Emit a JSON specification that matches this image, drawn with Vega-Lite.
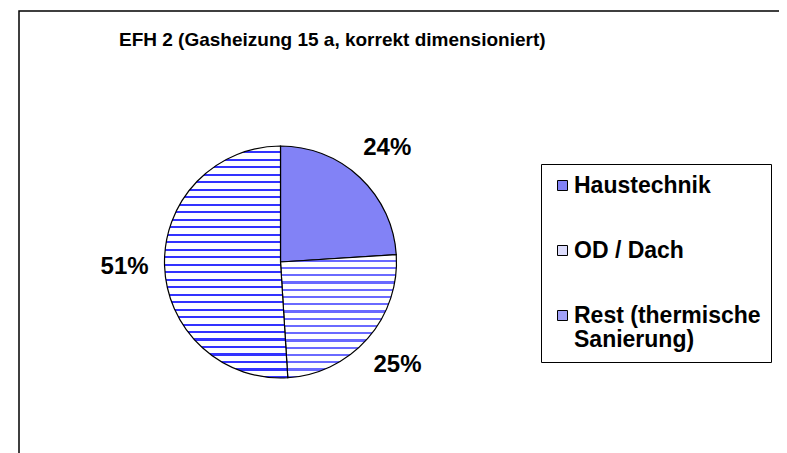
{
  "$schema": "https://vega.github.io/schema/vega-lite/v6.json",
  "width": 760,
  "height": 452,
  "autosize": "none",
  "padding": {"left": 19, "top": 11, "right": 8, "bottom": -10},
  "background": "white",
  "view": {"stroke": "black", "strokeWidth": 1.5, "fill": "white", "strokeDash": [760, 742, 3000]},
  "config": {"font": "Liberation Sans"},
  "title": {
    "text": "EFH 2 (Gasheizung 15 a, korrekt dimensioniert)",
    "font": "Liberation Sans", "fontSize": 19, "fontWeight": "bold", "color": "black",
    "anchor": "start", "frame": "group", "baseline": "alphabetic", "offset": 0, "dx": 100, "dy": 54
  },
  "data": {"values": [
    {"part": "Haustechnik", "share": 0.24},
    {"part": "OD / Dach", "share": 0.25},
    {"part": "Rest (thermische Sanierung)", "share": 0.51}
  ]},
  "encoding": {
    "theta": {"field": "share", "type": "quantitative", "stack": true},
    "order": {"field": "part", "sort": "ascending"}
  },
  "layer": [
    {
      "mark": {"type": "arc", "radius": 116, "stroke": "black", "strokeWidth": 1.2, "x": 261.5, "y": 251},
      "encoding": {
        "fill": {
          "condition": [
            {"test": "datum.part == 'OD / Dach'", "value": {"gradient": "linear", "x1": 0, "y1": 0, "x2": 0, "y2": 1, "stops": [
              {"offset": 0, "color": "#ffffff"}, {"offset": 0.04118, "color": "#ffffff"}, {"offset": 0.04118, "color": "#6a6aff"}, {"offset": 0.05882, "color": "#6a6aff"},
              {"offset": 0.05882, "color": "#ffffff"}, {"offset": 0.10000, "color": "#ffffff"}, {"offset": 0.10000, "color": "#6a6aff"}, {"offset": 0.11765, "color": "#6a6aff"},
              {"offset": 0.11765, "color": "#ffffff"}, {"offset": 0.15882, "color": "#ffffff"}, {"offset": 0.15882, "color": "#6a6aff"}, {"offset": 0.17647, "color": "#6a6aff"},
              {"offset": 0.17647, "color": "#ffffff"}, {"offset": 0.21765, "color": "#ffffff"}, {"offset": 0.21765, "color": "#6a6aff"}, {"offset": 0.23529, "color": "#6a6aff"},
              {"offset": 0.23529, "color": "#ffffff"}, {"offset": 0.27647, "color": "#ffffff"}, {"offset": 0.27647, "color": "#6a6aff"}, {"offset": 0.29412, "color": "#6a6aff"},
              {"offset": 0.29412, "color": "#ffffff"}, {"offset": 0.33529, "color": "#ffffff"}, {"offset": 0.33529, "color": "#6a6aff"}, {"offset": 0.35294, "color": "#6a6aff"},
              {"offset": 0.35294, "color": "#ffffff"}, {"offset": 0.39412, "color": "#ffffff"}, {"offset": 0.39412, "color": "#6a6aff"}, {"offset": 0.41176, "color": "#6a6aff"},
              {"offset": 0.41176, "color": "#ffffff"}, {"offset": 0.45294, "color": "#ffffff"}, {"offset": 0.45294, "color": "#6a6aff"}, {"offset": 0.47059, "color": "#6a6aff"},
              {"offset": 0.47059, "color": "#ffffff"}, {"offset": 0.51176, "color": "#ffffff"}, {"offset": 0.51176, "color": "#6a6aff"}, {"offset": 0.52941, "color": "#6a6aff"},
              {"offset": 0.52941, "color": "#ffffff"}, {"offset": 0.57059, "color": "#ffffff"}, {"offset": 0.57059, "color": "#6a6aff"}, {"offset": 0.58824, "color": "#6a6aff"},
              {"offset": 0.58824, "color": "#ffffff"}, {"offset": 0.62941, "color": "#ffffff"}, {"offset": 0.62941, "color": "#6a6aff"}, {"offset": 0.64706, "color": "#6a6aff"},
              {"offset": 0.64706, "color": "#ffffff"}, {"offset": 0.68824, "color": "#ffffff"}, {"offset": 0.68824, "color": "#6a6aff"}, {"offset": 0.70588, "color": "#6a6aff"},
              {"offset": 0.70588, "color": "#ffffff"}, {"offset": 0.74706, "color": "#ffffff"}, {"offset": 0.74706, "color": "#6a6aff"}, {"offset": 0.76471, "color": "#6a6aff"},
              {"offset": 0.76471, "color": "#ffffff"}, {"offset": 0.80588, "color": "#ffffff"}, {"offset": 0.80588, "color": "#6a6aff"}, {"offset": 0.82353, "color": "#6a6aff"},
              {"offset": 0.82353, "color": "#ffffff"}, {"offset": 0.86471, "color": "#ffffff"}, {"offset": 0.86471, "color": "#6a6aff"}, {"offset": 0.88235, "color": "#6a6aff"},
              {"offset": 0.88235, "color": "#ffffff"}, {"offset": 0.92353, "color": "#ffffff"}, {"offset": 0.92353, "color": "#6a6aff"}, {"offset": 0.94118, "color": "#6a6aff"},
              {"offset": 0.94118, "color": "#ffffff"}, {"offset": 0.98235, "color": "#ffffff"}, {"offset": 0.98235, "color": "#6a6aff"}, {"offset": 1, "color": "#6a6aff"}
            ]}},
            {"test": "datum.part == 'Rest (thermische Sanierung)'", "value": {"gradient": "linear", "x1": 0, "y1": 0, "x2": 0, "y2": 1, "stops": [
              {"offset": 0, "color": "#ffffff"}, {"offset": 0.02323, "color": "#ffffff"}, {"offset": 0.02323, "color": "#3333ff"}, {"offset": 0.03226, "color": "#3333ff"},
              {"offset": 0.03226, "color": "#ffffff"}, {"offset": 0.05549, "color": "#ffffff"}, {"offset": 0.05549, "color": "#3333ff"}, {"offset": 0.06452, "color": "#3333ff"},
              {"offset": 0.06452, "color": "#ffffff"}, {"offset": 0.08775, "color": "#ffffff"}, {"offset": 0.08775, "color": "#3333ff"}, {"offset": 0.09677, "color": "#3333ff"},
              {"offset": 0.09677, "color": "#ffffff"}, {"offset": 0.12000, "color": "#ffffff"}, {"offset": 0.12000, "color": "#3333ff"}, {"offset": 0.12903, "color": "#3333ff"},
              {"offset": 0.12903, "color": "#ffffff"}, {"offset": 0.15226, "color": "#ffffff"}, {"offset": 0.15226, "color": "#3333ff"}, {"offset": 0.16129, "color": "#3333ff"},
              {"offset": 0.16129, "color": "#ffffff"}, {"offset": 0.18452, "color": "#ffffff"}, {"offset": 0.18452, "color": "#3333ff"}, {"offset": 0.19355, "color": "#3333ff"},
              {"offset": 0.19355, "color": "#ffffff"}, {"offset": 0.21678, "color": "#ffffff"}, {"offset": 0.21678, "color": "#3333ff"}, {"offset": 0.22581, "color": "#3333ff"},
              {"offset": 0.22581, "color": "#ffffff"}, {"offset": 0.24904, "color": "#ffffff"}, {"offset": 0.24904, "color": "#3333ff"}, {"offset": 0.25806, "color": "#3333ff"},
              {"offset": 0.25806, "color": "#ffffff"}, {"offset": 0.28129, "color": "#ffffff"}, {"offset": 0.28129, "color": "#3333ff"}, {"offset": 0.29032, "color": "#3333ff"},
              {"offset": 0.29032, "color": "#ffffff"}, {"offset": 0.31355, "color": "#ffffff"}, {"offset": 0.31355, "color": "#3333ff"}, {"offset": 0.32258, "color": "#3333ff"},
              {"offset": 0.32258, "color": "#ffffff"}, {"offset": 0.34581, "color": "#ffffff"}, {"offset": 0.34581, "color": "#3333ff"}, {"offset": 0.35484, "color": "#3333ff"},
              {"offset": 0.35484, "color": "#ffffff"}, {"offset": 0.37807, "color": "#ffffff"}, {"offset": 0.37807, "color": "#3333ff"}, {"offset": 0.38710, "color": "#3333ff"},
              {"offset": 0.38710, "color": "#ffffff"}, {"offset": 0.41033, "color": "#ffffff"}, {"offset": 0.41033, "color": "#3333ff"}, {"offset": 0.41935, "color": "#3333ff"},
              {"offset": 0.41935, "color": "#ffffff"}, {"offset": 0.44258, "color": "#ffffff"}, {"offset": 0.44258, "color": "#3333ff"}, {"offset": 0.45161, "color": "#3333ff"},
              {"offset": 0.45161, "color": "#ffffff"}, {"offset": 0.47484, "color": "#ffffff"}, {"offset": 0.47484, "color": "#3333ff"}, {"offset": 0.48387, "color": "#3333ff"},
              {"offset": 0.48387, "color": "#ffffff"}, {"offset": 0.50710, "color": "#ffffff"}, {"offset": 0.50710, "color": "#3333ff"}, {"offset": 0.51613, "color": "#3333ff"},
              {"offset": 0.51613, "color": "#ffffff"}, {"offset": 0.53936, "color": "#ffffff"}, {"offset": 0.53936, "color": "#3333ff"}, {"offset": 0.54839, "color": "#3333ff"},
              {"offset": 0.54839, "color": "#ffffff"}, {"offset": 0.57162, "color": "#ffffff"}, {"offset": 0.57162, "color": "#3333ff"}, {"offset": 0.58065, "color": "#3333ff"},
              {"offset": 0.58065, "color": "#ffffff"}, {"offset": 0.60388, "color": "#ffffff"}, {"offset": 0.60388, "color": "#3333ff"}, {"offset": 0.61290, "color": "#3333ff"},
              {"offset": 0.61290, "color": "#ffffff"}, {"offset": 0.63613, "color": "#ffffff"}, {"offset": 0.63613, "color": "#3333ff"}, {"offset": 0.64516, "color": "#3333ff"},
              {"offset": 0.64516, "color": "#ffffff"}, {"offset": 0.66839, "color": "#ffffff"}, {"offset": 0.66839, "color": "#3333ff"}, {"offset": 0.67742, "color": "#3333ff"},
              {"offset": 0.67742, "color": "#ffffff"}, {"offset": 0.70065, "color": "#ffffff"}, {"offset": 0.70065, "color": "#3333ff"}, {"offset": 0.70968, "color": "#3333ff"},
              {"offset": 0.70968, "color": "#ffffff"}, {"offset": 0.73291, "color": "#ffffff"}, {"offset": 0.73291, "color": "#3333ff"}, {"offset": 0.74194, "color": "#3333ff"},
              {"offset": 0.74194, "color": "#ffffff"}, {"offset": 0.76517, "color": "#ffffff"}, {"offset": 0.76517, "color": "#3333ff"}, {"offset": 0.77419, "color": "#3333ff"},
              {"offset": 0.77419, "color": "#ffffff"}, {"offset": 0.79742, "color": "#ffffff"}, {"offset": 0.79742, "color": "#3333ff"}, {"offset": 0.80645, "color": "#3333ff"},
              {"offset": 0.80645, "color": "#ffffff"}, {"offset": 0.82968, "color": "#ffffff"}, {"offset": 0.82968, "color": "#3333ff"}, {"offset": 0.83871, "color": "#3333ff"},
              {"offset": 0.83871, "color": "#ffffff"}, {"offset": 0.86194, "color": "#ffffff"}, {"offset": 0.86194, "color": "#3333ff"}, {"offset": 0.87097, "color": "#3333ff"},
              {"offset": 0.87097, "color": "#ffffff"}, {"offset": 0.89420, "color": "#ffffff"}, {"offset": 0.89420, "color": "#3333ff"}, {"offset": 0.90323, "color": "#3333ff"},
              {"offset": 0.90323, "color": "#ffffff"}, {"offset": 0.92646, "color": "#ffffff"}, {"offset": 0.92646, "color": "#3333ff"}, {"offset": 0.93548, "color": "#3333ff"},
              {"offset": 0.93548, "color": "#ffffff"}, {"offset": 0.95871, "color": "#ffffff"}, {"offset": 0.95871, "color": "#3333ff"}, {"offset": 0.96774, "color": "#3333ff"},
              {"offset": 0.96774, "color": "#ffffff"}, {"offset": 0.99097, "color": "#ffffff"}, {"offset": 0.99097, "color": "#3333ff"}, {"offset": 1, "color": "#3333ff"}
            ]}}
          ],
          "field": "part", "type": "nominal",
          "scale": {"domain": ["Haustechnik", "OD / Dach", "Rest (thermische Sanierung)"], "range": ["#8282f6", "#dcdcfc", "#a0a0f8"]},
          "legend": {
            "title": null, "orient": "none", "legendX": 522, "legendY": 153, "direction": "vertical",
            "strokeColor": "black", "fillColor": "white", "padding": 10, "cornerRadius": 0,
            "labelFont": "Liberation Sans", "labelFontSize": 23, "labelFontWeight": "bold", "labelColor": "black",
            "symbolType": "square", "symbolSize": 100, "symbolStrokeColor": "black", "symbolStrokeWidth": 1, "symbolOpacity": 1,
            "labelOffset": 0, "rowPadding": 41, "labelLimit": 500,
            "labelExpr": "datum.label == 'Rest (thermische Sanierung)' ? ['Rest (thermische\u00a0\u00a0\u00a0\u00a0', 'Sanierung)'] : datum.label",
            "encode": {"labels": {"update": {"lineHeight": {"value": 24}}}}
          }
        }
      }
    },
    {
      "mark": {"type": "text", "radius": 156, "x": 261.5, "y": 251, "font": "Liberation Sans", "fontSize": 24, "fontWeight": "bold"},
      "encoding": {
        "detail": {"field": "part"},
        "text": {"field": "share", "type": "quantitative", "format": ".0%"},
        "color": {"value": "black"}
      }
    }
  ]
}
